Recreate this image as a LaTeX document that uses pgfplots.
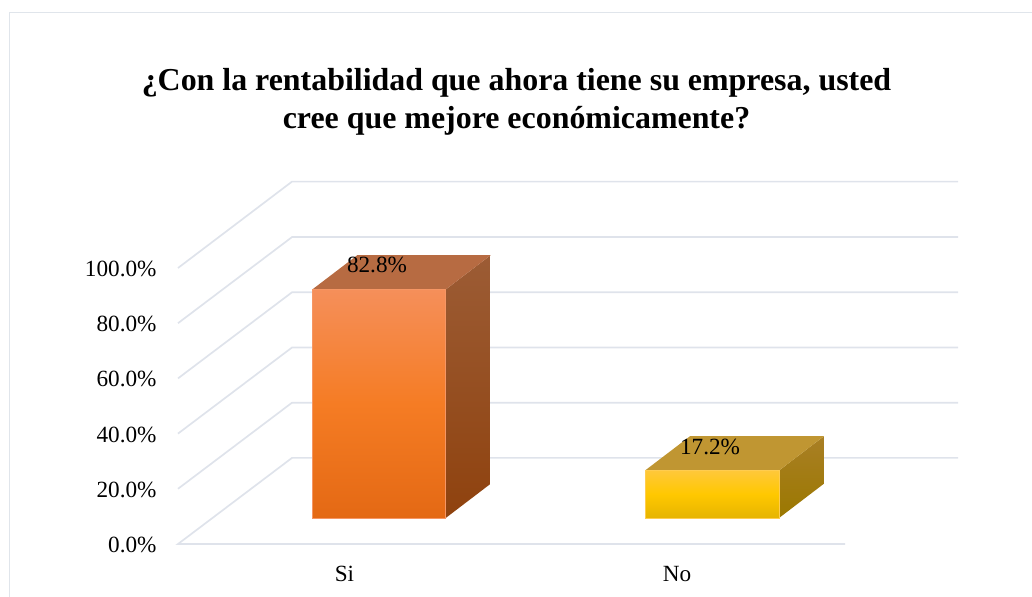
\documentclass[border=0pt]{standalone}
\usepackage{pgfplots}
\pgfplotsset{compat=1.18}
\usepackage{fontspec}
\setmainfont{Liberation Serif}
\definecolor{gridc}{HTML}{DFE3EB}
\definecolor{framec}{HTML}{E0E5EB}
\definecolor{otop}{HTML}{B76B42}
\definecolor{osideT}{HTML}{9C5C35}
\definecolor{osideB}{HTML}{8F420E}
\definecolor{oedge}{HTML}{F69664}
\definecolor{ofT}{HTML}{F58F5A}
\definecolor{ofM}{HTML}{F57C24}
\definecolor{ofB}{HTML}{E46914}
\definecolor{ytop}{HTML}{C09632}
\definecolor{ysideT}{HTML}{A97F25}
\definecolor{ysideB}{HTML}{9B7800}
\definecolor{yedge}{HTML}{FFCD50}
\definecolor{yfT}{HTML}{FFC83A}
\definecolor{yfM}{HTML}{FFC800}
\definecolor{yfB}{HTML}{E6B400}
\begin{document}
\begin{tikzpicture}[x=1bp,y=1bp]
\path[use as bounding box] (0,0) rectangle (1032,-597);
\draw[framec,line width=1.4bp] (9.5,-597) -- (9.5,-12.5) -- (1032,-12.5);
\begin{axis}[
  at={(178bp,-544bp)},anchor=south west,
  scale only axis,width=667bp,height=276bp,
  xmin=178,xmax=845,ymin=0,ymax=100,
  clip=false,
  axis line style={draw=none},
  tick style={draw=none},
  /pgf/number format/assume math mode=true,
  ytick={0,20,40,60,80,100},
  yticklabel={\pgfmathprintnumber[fixed,fixed zerofill,precision=1]{\tick}\%},
  xtick={344.5,677},
  xticklabels={Si,No},
  tick label style={font=\fontsize{23.2bp}{27bp}\selectfont,text=black},
  yticklabel style={xshift=-18bp,yshift=-1bp},
  xticklabel style={yshift=-19bp},
  title={\textbf{¿Con la rentabilidad que ahora tiene su empresa, usted}\\\textbf{cree que mejore económicamente?}},
  title style={at={(axis description cs:0.5075,1.579)},anchor=center,align=center,
    font=\fontsize{31.9bp}{38bp}\selectfont},
]
% grid: front-left diagonal then back wall
\pgfplotsset{gl/.style={gridc,line width=1.7bp}}
\addplot[gl] coordinates {(845,0) (178,0) (292,31.2) (958,31.2)};
\addplot[gl] coordinates {(178,20) (292,51.2) (958,51.2)};
\addplot[gl] coordinates {(178,40) (292,71.2) (958,71.2)};
\addplot[gl] coordinates {(178,60) (292,91.2) (958,91.2)};
\addplot[gl] coordinates {(178,80) (292,111.2) (958,111.2)};
\addplot[gl] coordinates {(178,100) (292,131.3) (958,131.3)};
% Si = 82.8
\addplot[draw=none,top color=osideT,bottom color=osideB] coordinates {(445.7,9.42) (490.7,21.85) (490.7,104.65) (445.7,92.22)} --cycle;
\addplot[draw=none,fill=otop] coordinates {(312.3,92.22) (445.7,92.22) (490.7,104.65) (357.3,104.65)} --cycle;
\addplot[draw=oedge,line width=0.6bp,top color=ofT,bottom color=ofB,middle color=ofM] coordinates {(312.3,9.42) (445.7,9.42) (445.7,92.22) (312.3,92.22)} --cycle;
% No = 17.2
\addplot[draw=none,top color=ysideT,bottom color=ysideB] coordinates {(779,9.42) (823.9,21.85) (823.9,39.05) (779,26.62)} --cycle;
\addplot[draw=none,fill=ytop] coordinates {(645,26.62) (779,26.62) (823.9,39.05) (690,39.05)} --cycle;
\addplot[draw=yedge,line width=0.6bp,top color=yfT,bottom color=yfB,middle color=yfM] coordinates {(645,9.42) (779,9.42) (779,26.62) (645,26.62)} --cycle;
% value labels
\addplot[draw=none,point meta=explicit,
  nodes near coords={\pgfmathprintnumber[fixed,fixed zerofill,precision=1]{\pgfplotspointmeta}\%},
  every node near coord/.style={anchor=center,inner sep=0pt,text=black,font=\fontsize{23.2bp}{27bp}\selectfont}]
  table[x=x,y=y,meta=v] {
  x y v
  377 101.1 82.8
  710 35.1 17.2
};
\end{axis}
\end{tikzpicture}
\end{document}
